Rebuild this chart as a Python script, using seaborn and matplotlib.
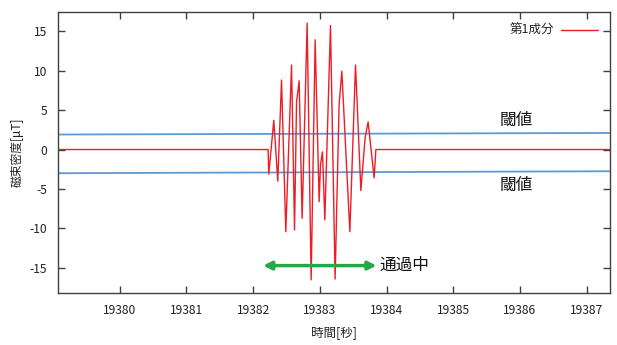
import matplotlib
matplotlib.use("Agg")
import matplotlib.pyplot as plt
import seaborn as sns
import pandas as pd
from matplotlib.ticker import ScalarFormatter

# time [s] and first component [uT]
t_sec = [19379.08, 19382.225, 19382.235, 19382.31, 19382.37, 19382.426, 19382.49,
         19382.576, 19382.621, 19382.651, 19382.69, 19382.735, 19382.81, 19382.87,
         19382.93, 19382.99, 19383.01, 19383.04, 19383.075, 19383.16, 19383.229,
         19383.289, 19383.33, 19383.45, 19383.535, 19383.615, 19383.679, 19383.724,
         19383.814, 19383.84, 19387.35]
b_val = [0, 0, -3.1, 3.7, -4.0, 8.8, -10.4,
         10.7, -10.2, 6.0, 8.7, -8.7, 16.0, -16.5,
         13.9, -6.6, -1.9, -0.3, -8.9, 15.7, -16.4,
         5.7, 9.9, -10.4, 10.7, -5.2, 1.5, 3.5,
         -3.6, 0, 0]

# threshold lines (start / end)
thr_t = [19379.08, 19387.35]
thr_hi = [1.9, 2.1]
thr_lo = [-3.0, -2.75]

x_ticks = [19380, 19381, 19382, 19383, 19384, 19385, 19386, 19387]
y_ticks = [-15, -10, -5, 0, 5, 10, 15]

# passing interval
pass_start, pass_end, pass_y = 19382.15, 19383.85, -14.7

sns.set_style("ticks")
plt.rcParams['font.family'] = ['Noto Sans CJK JP', 'DejaVu Sans']
plt.rcParams['axes.unicode_minus'] = False

df = pd.DataFrame({"t": t_sec, "b": b_val})
thr = pd.DataFrame({"t": thr_t, "hi": thr_hi, "lo": thr_lo})

fig = plt.figure(figsize=(6.17, 3.45), dpi=100)
ax = fig.add_axes([0.0945, 0.150, 0.8942, 0.816])

sns.lineplot(data=thr, x="t", y="hi", ax=ax, color="#5b9bd5", linewidth=1.3)
sns.lineplot(data=thr, x="t", y="lo", ax=ax, color="#5b9bd5", linewidth=1.3)
sns.lineplot(data=df, x="t", y="b", ax=ax, color="#ee1c25", linewidth=1.0,
             label="第1成分", sort=False)

ax.set_xlim(19379.08, 19387.35)
ax.set_ylim(-18.2, 17.45)
ax.set_xticks(x_ticks)
ax.set_yticks(y_ticks)
fmt = ScalarFormatter(useOffset=False)
ax.xaxis.set_major_formatter(fmt)
ax.tick_params(direction="in", length=5, width=1, color="#404040",
               top=True, right=True, labelsize=8.7, labelcolor="#222222", pad=8)
for s in ax.spines.values():
    s.set_visible(True)
    s.set_color("#404040")
    s.set_linewidth(1.0)

ax.set_xlabel("時間[秒]", fontsize=9, color="#222222", labelpad=6)
ax.set_ylabel("磁束密度[μT]", fontsize=8.5, color="#222222", labelpad=4)

ax.text(19385.94, 3.7, "閾値", fontsize=12, ha="center", va="center", color="#111111")
ax.text(19385.94, -4.6, "閾値", fontsize=12, ha="center", va="center", color="#111111")

ax.annotate("", xy=(pass_start, pass_y), xytext=(pass_end, pass_y),
            arrowprops=dict(arrowstyle="<|-|>", color="#22aa44", lw=2.5,
                            mutation_scale=12, shrinkA=0, shrinkB=0))
ax.text(pass_end + 0.05, pass_y, "通過中", fontsize=12, ha="left", va="center",
        color="#111111")

leg = ax.legend(loc="upper right", frameon=False, markerfirst=False, fontsize=9,
                handlelength=2.9, borderaxespad=0.6, handletextpad=0.6)

fig.savefig("out.png", dpi=100)
